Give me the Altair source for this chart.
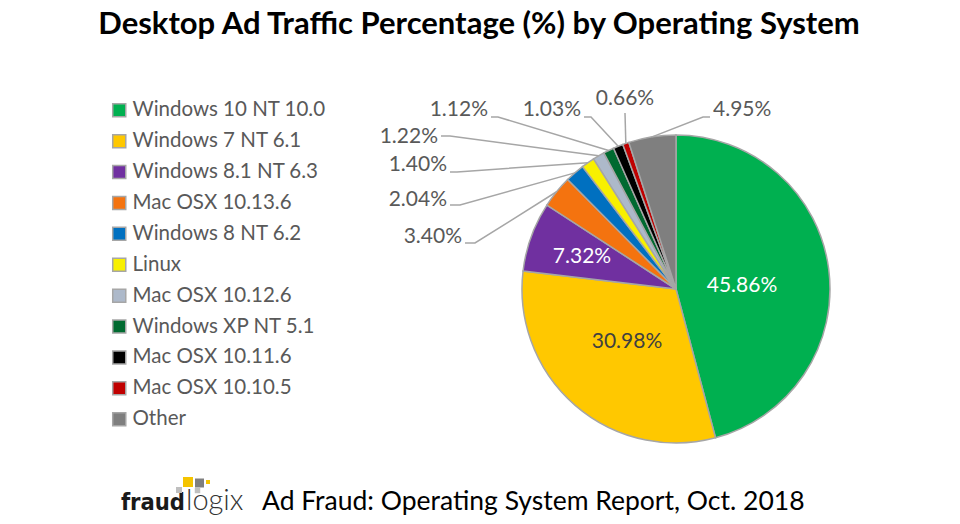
import altair as alt
import pandas as pd
import numpy as np

# ---------------- data ----------------
categories = ["Windows 10 NT 10.0", "Windows 7 NT 6.1", "Windows 8.1 NT 6.3",
              "Mac OSX 10.13.6", "Windows 8 NT 6.2", "Linux", "Mac OSX 10.12.6",
              "Windows XP NT 5.1", "Mac OSX 10.11.6", "Mac OSX 10.10.5", "Other"]
values = [45.86, 30.98, 7.32, 3.40, 2.04, 1.40, 1.22, 1.12, 1.03, 0.66, 4.95]
colors = ["#00b050", "#ffc800", "#7030a0", "#f4730f", "#0070c0", "#f8f000",
          "#adb9ca", "#006a30", "#000000", "#c00000", "#7f7f7f"]
title_text = "Desktop Ad Traffic Percentage (%) by Operating System"
footer_text = "Ad Fraud: Operating System Report, Oct. 2018"

# ---------------- layout (pixels, origin at pie centre, y up) ----------------
W, H = 944, 508
CX, CY = 668, 281
R = 154
FONT = "Lato"
COND = "DejaVu Sans Condensed"
# idx: (x, y, colour)
inside_layout = {0: (66, 3, "white"), 1: (-49, -53, "#404040"), 2: (-94, 32, "white")}
# idx: (text x, text y, align, line start x, line start y, stub)
outside_layout = {
    10: (37, 179, "left", 34, 172, -7),
    9: (-51, 190, "center", -51, 176, 0),
    8: (-95, 179, "right", -92, 172, 7),
    7: (-188, 179, "right", -185, 172, 7),
    6: (-238, 152, "right", -235, 153, 9),
    5: (-229, 124, "right", -226, 117, 7),
    4: (-229, 89, "right", -226, 84, 10),
    3: (-214, 52, "right", -211, 46, 10),
}

df = pd.DataFrame({"category": categories, "value": values, "idx": range(len(values))})
df["label"] = [f"{v:.2f}%" for v in values]
total = sum(values)
end = np.cumsum(values)
start = end - np.array(values)
mid = (start + end) / 2 / total * 2 * np.pi
df["ex"] = R * np.sin(mid)
df["ey"] = R * np.cos(mid)

xs = alt.Scale(domain=[-CX, W - CX], range=[0, W], nice=False, zero=False)
ys = alt.Scale(domain=[-(H - CY), CY], range=[H, 0], nice=False, zero=False)

def X(f):
    return alt.X(f, type="quantitative", scale=xs, axis=None)

def Y(f):
    return alt.Y(f, type="quantitative", scale=ys, axis=None)

arc = alt.Chart(df).mark_arc(radius=R, stroke="#a6a6a6", strokeWidth=1.5).encode(
    theta=alt.Theta("value:Q", stack=True),
    color=alt.Color("category:N", scale=alt.Scale(domain=categories, range=colors),
                    sort=categories,
                    legend=alt.Legend(title=None, orient="none", legendX=101, legendY=92,
                                      symbolType="square", symbolSize=170,
                                      symbolStrokeColor="#a6a6a6", symbolStrokeWidth=1.5,
                                      labelFont=FONT, labelFontSize=20.5, labelColor="#595959",
                                      rowPadding=9.9, labelOffset=3, symbolOpacity=1,
                                      labelLimit=400)),
    order=alt.Order("idx:Q"),
    x=alt.XDatum(0, type="quantitative", scale=xs, axis=None),
    y=alt.YDatum(0, type="quantitative", scale=ys, axis=None),
)

# inside labels
ins = df[df["idx"].isin(inside_layout.keys())].copy()
ins["lx"] = [inside_layout[i][0] for i in ins["idx"]]
ins["ly"] = [inside_layout[i][1] for i in ins["idx"]]
ins["col"] = [inside_layout[i][2] for i in ins["idx"]]
inside_text = alt.Chart(ins).mark_text(font=FONT, fontSize=21, baseline="middle").encode(
    x=X("lx"), y=Y("ly"), text="label:N", color=alt.Color("col:N", scale=None))

# outside labels
rows, lines = [], []
for i, (tx, ty, al, lx, ly, stub) in outside_layout.items():
    rows.append({"label": df.loc[i, "label"], "tx": tx, "ty": ty, "align": al})
    lines += [
        {"cat": categories[i], "o": 0, "x": lx, "y": ly},
        {"cat": categories[i], "o": 1, "x": lx + stub, "y": ly},
        {"cat": categories[i], "o": 2, "x": df.loc[i, "ex"], "y": df.loc[i, "ey"]},
    ]
out_df = pd.DataFrame(rows)
line_df = pd.DataFrame(lines)

leader = alt.Chart(line_df).mark_line(color="#a6a6a6", strokeWidth=1.5).encode(
    x=X("x"), y=Y("y"), detail="cat:N", order="o:Q")

out_layers = []
for al in ["left", "center", "right"]:
    sub = out_df[out_df["align"] == al]
    out_layers.append(alt.Chart(sub).mark_text(font=FONT, fontSize=21, align=al,
                                               baseline="middle", color="#595959").encode(
        x=X("tx"), y=Y("ty"), text="label:N"))

# title & footer
title_df = pd.DataFrame({"t": [title_text], "x": [-197], "y": [264]})
title = alt.Chart(title_df).mark_text(font=FONT, fontSize=31, fontWeight="bold",
                                      color="#000000", baseline="middle").encode(
    x=X("x"), y=Y("y"), text="t:N")

foot_df = pd.DataFrame({"t": [footer_text], "x": [-414], "y": [-213]})
footer = alt.Chart(foot_df).mark_text(font=FONT, fontSize=26.5, align="left",
                                      baseline="middle", color="#000000").encode(
    x=X("x"), y=Y("y"), text="t:N")

logo1 = alt.Chart(pd.DataFrame({"t": ["fraud"], "x": [-491], "y": [-221]})).mark_text(
    font=COND, fontSize=23.5, fontWeight="bold", align="right",
    baseline="alphabetic", color="#1a1a1a").encode(x=X("x"), y=Y("y"), text="t:N")
logo2 = alt.Chart(pd.DataFrame({"t": ["logix"], "x": [-490], "y": [-221]})).mark_text(
    font=FONT, fontSize=29, fontWeight=300, align="left",
    baseline="alphabetic", color="#333333").encode(x=X("x"), y=Y("y"), text="t:N")

sq_df = pd.DataFrame({
    "x": [-488, -476.5, -468, -497, -478.5],
    "y": [-193, -194, -193, -201, -201.5],
    "s": [100, 81, 16, 36, 30],
    "c": ["#f5c400", "#7f7f7f", "#f5c400", "#bfbfbf", "#bfbfbf"],
})
squares = alt.Chart(sq_df).mark_square(opacity=1).encode(
    x=X("x"), y=Y("y"), size=alt.Size("s:Q", scale=None),
    color=alt.Color("c:N", scale=None))

chart = alt.layer(arc, leader, inside_text, *out_layers, title, footer, logo1, logo2, squares).properties(
    width=W, height=H, padding=0, autosize=alt.AutoSizeParams(type="none"),
    background="white"
).configure_view(stroke=None)

chart.save("out.html", embed_options={"renderer": "svg", "actions": False})
